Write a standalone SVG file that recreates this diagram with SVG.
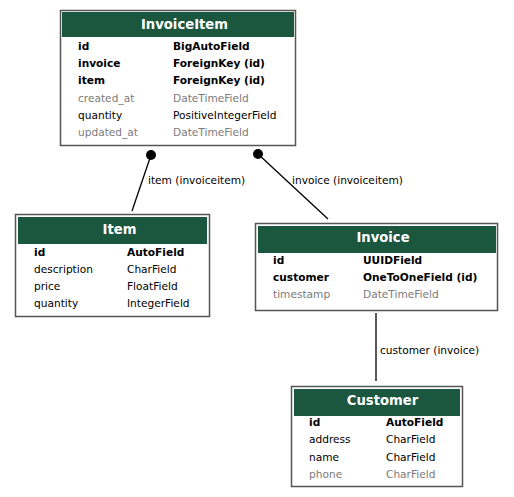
<svg xmlns="http://www.w3.org/2000/svg" width="514" height="497" viewBox="0 0 514 497">
<style>
text{font-family:"DejaVu Sans",sans-serif;font-size:10.6px;fill:#000}
.t{font-weight:bold;font-size:13.2px;fill:#fff;text-anchor:middle}
.b{font-weight:bold}
.g{fill:#7b7b7b}
.box{fill:#fff;stroke:#555;stroke-width:1.5}
.hd{fill:#1b563f}
.edge line{stroke:#000;stroke-width:1.3}
.edge circle{fill:#000}
</style>
<rect width="514" height="497" fill="#fff"/>
<g id="InvoiceItem">
<rect class="box" x="60.5" y="10.5" width="235" height="135"/>
<rect class="hd" x="62" y="12" width="232" height="25"/>
<text class="t" x="184.5" y="28.5">InvoiceItem</text>
<text class="b" x="78" y="50">id</text><text class="b" x="173" y="50">BigAutoField</text>
<text class="b" x="78" y="67.2">invoice</text><text class="b" x="173" y="67.2">ForeignKey (id)</text>
<text class="b" x="78" y="84.4">item</text><text class="b" x="173" y="84.4">ForeignKey (id)</text>
<text class="g" x="78" y="101.6">created_at</text><text class="g" x="173" y="101.6">DateTimeField</text>
<text x="78" y="118.8">quantity</text><text x="173" y="118.8">PositiveIntegerField</text>
<text class="g" x="78" y="136">updated_at</text><text class="g" x="173" y="136">DateTimeField</text>
</g>
<g id="Item">
<rect class="box" x="15.5" y="214.5" width="194" height="102"/>
<rect class="hd" x="18" y="217" width="189" height="27"/>
<text class="t" x="119.5" y="233.5">Item</text>
<text class="b" x="34" y="256">id</text><text class="b" x="127" y="256">AutoField</text>
<text x="34" y="273">description</text><text x="127" y="273">CharField</text>
<text x="34" y="290">price</text><text x="127" y="290">FloatField</text>
<text x="34" y="307">quantity</text><text x="127" y="307">IntegerField</text>
</g>
<g id="Invoice">
<rect class="box" x="255.5" y="223.5" width="242" height="87"/>
<rect class="hd" x="258" y="226" width="238" height="27"/>
<text class="t" x="383" y="241.5">Invoice</text>
<text class="b" x="273" y="264">id</text><text class="b" x="363" y="264">UUIDField</text>
<text class="b" x="273" y="281">customer</text><text class="b" x="363" y="281">OneToOneField (id)</text>
<text class="g" x="273" y="298">timestamp</text><text class="g" x="363" y="298">DateTimeField</text>
</g>
<g id="Customer">
<rect class="box" x="291.5" y="386.5" width="171" height="100"/>
<rect class="hd" x="294" y="389" width="166" height="27"/>
<text class="t" x="382.5" y="404.5">Customer</text>
<text class="b" x="309" y="426">id</text><text class="b" x="386" y="426">AutoField</text>
<text x="309" y="443">address</text><text x="386" y="443">CharField</text>
<text x="309" y="461">name</text><text x="386" y="461">CharField</text>
<text class="g" x="309" y="478">phone</text><text class="g" x="386" y="478">CharField</text>
</g>
<g id="connectors" class="edge">
<line x1="151" y1="155" x2="132" y2="211"/>
<circle cx="151" cy="155" r="5"/>
<text x="148" y="184">item (invoiceitem)</text>
<line x1="258" y1="154" x2="328" y2="219"/>
<circle cx="258" cy="154" r="5"/>
<text x="292" y="184">invoice (invoiceitem)</text>
<line x1="376" y1="313" x2="376" y2="381"/>
<text x="380" y="354">customer (invoice)</text>
</g>
</svg>
